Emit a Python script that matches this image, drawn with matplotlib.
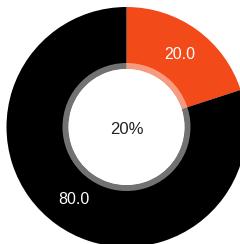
import matplotlib
matplotlib.use("Agg")
import matplotlib.pyplot as plt
from matplotlib.patches import Wedge, Circle

labels = ["A", "B"]
values = [20.0, 80.0]
colors = ["#f24a19", "#000000"]
center_text = "20%"

W, H = 240, 244
fig = plt.figure(figsize=(W / 100, H / 100), dpi=100)
ax = fig.add_axes([0, 0, 1, 1])
cx, cy = 126.5, H - 127
R_out, R_in = 120, 58

wedges, texts, autotexts = ax.pie(
    values, colors=colors, radius=R_out, center=(cx, cy), startangle=90,
    counterclock=False, wedgeprops=dict(width=R_out - R_in, linewidth=0),
    autopct="%.1f", pctdistance=0.75,
    textprops=dict(color="white", fontsize=11.5, family="Liberation Sans"))

ax.add_patch(Wedge((cx, cy), 64, 0, 360, width=6, facecolor="white", alpha=0.45, linewidth=0))
ax.add_patch(Circle((cx, cy), R_in, facecolor="white", linewidth=0))
ax.text(cx, cy - 3, center_text, ha="center", va="center", fontsize=12,
        color="#222222", family="Liberation Sans")

ax.set_xlim(0, W)
ax.set_ylim(0, H)
ax.set_aspect("equal")
ax.axis("off")
fig.savefig("out.png", dpi=100, facecolor="white")
